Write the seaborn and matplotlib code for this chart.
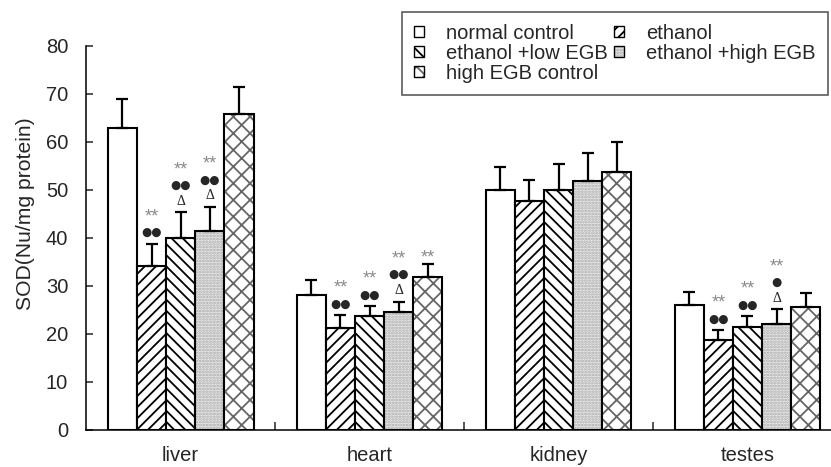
import pandas as pd
import matplotlib
matplotlib.use('Agg')
import matplotlib.pyplot as plt
import matplotlib.colors as mcolors
from matplotlib.patches import Patch
import seaborn as sns

organs = ['liver', 'heart', 'kidney', 'testes']
groups = ['normal control', 'ethanol', 'ethanol +low EGB',
          'ethanol +high EGB', 'high EGB control']

# mean and SD (Nu/mg protein)
normal_mean = [62.8, 28.1, 49.9, 25.9]
normal_sd = [6.2, 3.1, 4.8, 2.85]
ethanol_mean = [34.1, 21.1, 47.7, 18.7]
ethanol_sd = [4.65, 2.8, 4.4, 2.1]
low_mean = [39.9, 23.7, 49.9, 21.3]
low_sd = [5.4, 2.1, 5.5, 2.4]
high_mean = [41.5, 24.5, 51.9, 22.1]
high_sd = [4.9, 2.2, 5.7, 3.0]
ctrl_mean = [65.7, 31.9, 53.6, 25.6]
ctrl_sd = [5.6, 2.6, 6.3, 2.9]

# significance marks above each bar (top to bottom), per organ
normal_sig = [[], [], [], []]
ethanol_sig = [['**', '●●'], ['**', '●●'], [], ['**', '●●']]
low_sig = [['**', '●●', 'Δ'], ['**', '●●'], [], ['**', '●●']]
high_sig = [['**', '●●', 'Δ'], ['**', '●●', 'Δ'], [], ['**', '●', 'Δ']]
ctrl_sig = [[], ['**'], [], []]

means = [normal_mean, ethanol_mean, low_mean, high_mean, ctrl_mean]
sds = [normal_sd, ethanol_sd, low_sd, high_sd, ctrl_sd]
sigs = [normal_sig, ethanol_sig, low_sig, high_sig, ctrl_sig]

rows = []
for g, m in zip(groups, means):
    for o, v in zip(organs, m):
        rows.append({'organ': o, 'group': g, 'value': v})
df = pd.DataFrame(rows)

# facecolor, hatch, hatch colour
styles = [('white', '', 'black'),
          ('white', '///', 'black'),
          ('white', '\\\\\\', 'black'),
          ('#eeeeee', '......', '#a5a5a5'),
          ('white', 'xx', '#666666')]

sns.set_theme(style='white')
plt.rcParams['font.family'] = ['Liberation Sans', 'DejaVu Sans']
plt.rcParams['hatch.linewidth'] = 1.3

fig = plt.figure(figsize=(8.31, 4.67), dpi=100)
ax = fig.add_axes([86.2 / 831, 37.3 / 467, 1 - 86.2 / 831, 384 / 467])

sns.barplot(data=df, x='organ', y='value', hue='group', order=organs,
            hue_order=groups, width=0.771, gap=0, errorbar=None,
            legend=False, ax=ax)

bar_containers = list(ax.containers)
for i, cont in enumerate(bar_containers):
    fc, h, hc = styles[i]
    xs = []
    for p in cont.patches:
        p.set_facecolor(fc)
        p.set_edgecolor('black')
        p.set_linewidth(1.5)
        p.set_hatch(h)
        p._hatch_color = mcolors.to_rgba(hc)
        xs.append(p.get_x() + p.get_width() / 2)
    ax.errorbar(xs, means[i], yerr=[[0] * len(xs), sds[i]], fmt='none',
                ecolor='black', elinewidth=1.6, capsize=4.3, capthick=1.6,
                zorder=1)
    # significance symbols, stacked upward from the error bar top (px)
    for x, m, s, marks in zip(xs, means[i], sds[i], sigs[i]):
        off = 11
        for sym in reversed(marks):
            if sym == '**':
                ax.annotate(sym, (x, m + s), xytext=(0, (off - 4.5) * 0.72),
                            textcoords='offset points', ha='center',
                            va='center', fontsize=13, color='#8a8a8a')
                off += 20
            elif sym == 'Δ':
                ax.annotate(sym, (x, m + s), xytext=(0, off * 0.72),
                            textcoords='offset points', ha='center',
                            va='center', fontsize=10,
                            family=['Liberation Serif', 'DejaVu Serif'])
                off += 16
            else:
                ax.annotate(sym, (x, m + s), xytext=(0, off * 0.72),
                            textcoords='offset points', ha='center',
                            va='center', fontsize=8.5,
                            family=['DejaVu Sans'])
                off += 20

ax.set_xlim(-0.5, 3.442)
ax.set_ylim(0, 80)
ax.set_yticks(range(0, 81, 10))
ax.set_xticks([0.5, 1.5, 2.5], minor=True)
ax.tick_params(axis='y', direction='in', length=5, width=1.1, pad=13,
               labelsize=14.5, left=True)
ax.tick_params(axis='x', which='major', length=0, pad=12, labelsize=14.5)
ax.tick_params(axis='x', which='minor', direction='in', length=6,
               width=1.1, bottom=True)
for side in ['top', 'right']:
    ax.spines[side].set_visible(False)
for side in ['left', 'bottom']:
    ax.spines[side].set_color('black')
    ax.spines[side].set_linewidth(1.1)
ax.set_xlabel('')
ax.set_ylabel('SOD(Nu/mg protein)', fontsize=15.2)
ax.yaxis.set_label_coords(-0.069, 0.5635)

handles = []
for g, (fc, h, hc) in zip(groups, styles):
    hp = Patch(facecolor=fc, edgecolor='black', hatch=h, linewidth=1.0,
               label=g)
    hp._hatch_color = mcolors.to_rgba(hc)
    handles.append(hp)
order = [0, 2, 4, 1, 3]
leg = fig.legend(handles=[handles[i] for i in order], loc='upper left',
                 bbox_to_anchor=(402 / 831, 1 - 11.7 / 467), ncol=2,
                 fontsize=14.5, frameon=True, fancybox=False,
                 edgecolor='#333333', handlelength=0.5, handleheight=0.5,
                 handletextpad=1.1, columnspacing=0.3, labelspacing=0.05,
                 borderpad=0.6, borderaxespad=0)
leg.get_frame().set_linewidth(1.2)

fig.savefig('out.png', dpi=100)
